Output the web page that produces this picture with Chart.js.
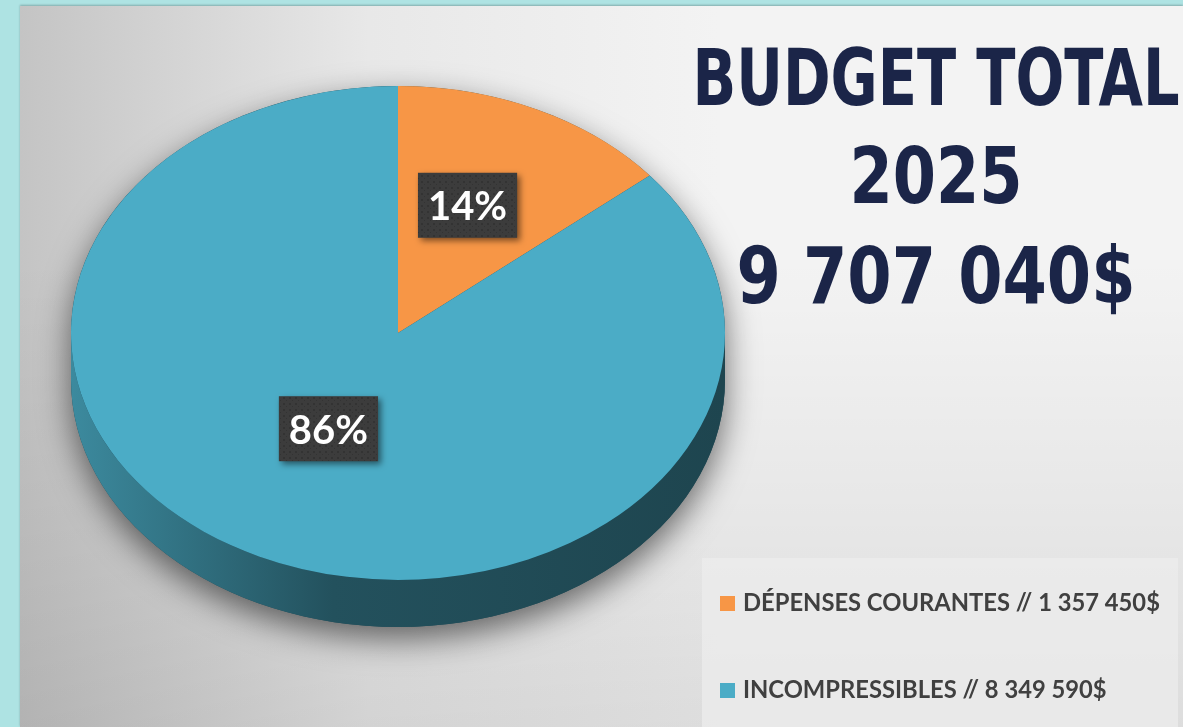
<!DOCTYPE html>
<html>
<head>
<meta charset="utf-8">
<script src="https://cdn.jsdelivr.net/npm/chart.js@4.4.1/dist/chart.umd.min.js"></script>
<style>
  html, body { margin: 0; padding: 0; background: #aee3e3; overflow: hidden; }
  #panel {
    position: absolute; left: 20px; top: 6px; width: 1163px; height: 721px;
    background:
      linear-gradient(to bottom, rgba(0,0,0,0) 35%, rgba(0,0,0,0.09) 100%),
      linear-gradient(to right, #c4c4c4 0%, #e8e8e8 30%, #f3f3f3 60%, #f3f3f3 100%);
    box-shadow: 0 -1px 2px rgba(0,0,0,0.25);
  }
  #budgetChart { position: absolute; left: 0; top: 0; }
</style>
</head>
<body>
<div id="panel"></div>
<canvas id="budgetChart" width="1183" height="727"></canvas>
<script>
// Données du budget
const categories = ['DÉPENSES COURANTES', 'INCOMPRESSIBLES'];
const montants = [1357450, 8349590];
const couleurs = ['#f79646', '#4bacc6'];
const titreLignes = ['BUDGET TOTAL', '2025'];

// Réglages de la vue "3D"
const INCLINAISON = 0.755; // écrasement vertical du disque
const EPAISSEUR = 47;      // hauteur du côté du gâteau

const total = montants.reduce((a, b) => a + b, 0);

function formatMontant(v) {
    return String(v).replace(/\B(?=(\d{3})+(?!\d))/g, ' ') + '$';
}

function assombrir(hex, f) {
    const n = parseInt(hex.slice(1), 16);
    const r = Math.round(((n >> 16) & 255) * f);
    const g = Math.round(((n >> 8) & 255) * f);
    const b = Math.round((n & 255) * f);
    return `rgb(${r},${g},${b})`;
}

// Motif pointillé des étiquettes
function motifEtiquette(ctx) {
    const c = document.createElement('canvas');
    c.width = 6; c.height = 6;
    const p = c.getContext('2d');
    p.fillStyle = '#3c3c3c';
    p.fillRect(0, 0, 6, 6);
    p.fillStyle = '#333333';
    p.fillRect(1, 1, 2, 2);
    p.fillRect(4, 4, 1, 1);
    return ctx.createPattern(c, 'repeat');
}

// Plugin : ombre, côté du gâteau et écrasement du disque
const pie3d = {
    id: 'pie3d',
    beforeDatasetsDraw(chart) {
        const ctx = chart.ctx;
        const arcs = chart.getDatasetMeta(0).data;
        const cx = arcs[0].x, cy = arcs[0].y, R = arcs[0].outerRadius;
        const ry = R * INCLINAISON;

        // ombre portée de la silhouette
        ctx.save();
        ctx.shadowColor = 'rgba(0,0,0,0.55)';
        ctx.shadowBlur = 32;
        ctx.shadowOffsetY = 12;
        ctx.beginPath();
        ctx.ellipse(cx, cy, R, ry, 0, Math.PI, 0);
        ctx.ellipse(cx, cy + EPAISSEUR, R, ry, 0, 0, Math.PI);
        ctx.closePath();
        ctx.fillStyle = '#1f4753';
        ctx.fill();
        ctx.restore();

        // côté visible de chaque part (angles entre 0 et PI)
        arcs.forEach((arc, i) => {
            [0, 2 * Math.PI, -2 * Math.PI].forEach(decal => {
                const a0 = Math.max(arc.startAngle, decal);
                const a1 = Math.min(arc.endAngle, decal + Math.PI);
                if (a1 <= a0) return;
                const grad = ctx.createLinearGradient(cx - R, 0, cx + R, 0);
                grad.addColorStop(0, assombrir(couleurs[i], 0.8));
                grad.addColorStop(0.4, assombrir(couleurs[i], 0.47));
                grad.addColorStop(1, assombrir(couleurs[i], 0.4));
                ctx.beginPath();
                ctx.ellipse(cx, cy, R, ry, 0, a0 - decal, a1 - decal);
                ctx.ellipse(cx, cy + EPAISSEUR, R, ry, 0, a1 - decal, a0 - decal, true);
                ctx.closePath();
                ctx.fillStyle = grad;
                ctx.fill();
            });
        });

        // disque du dessus : on écrase verticalement
        ctx.save();
        ctx.translate(cx, cy);
        ctx.scale(1, INCLINAISON);
        ctx.translate(-cx, -cy);
    },
    afterDatasetsDraw(chart) {
        const ctx = chart.ctx;
        ctx.restore();

        const arcs = chart.getDatasetMeta(0).data;
        const motif = motifEtiquette(ctx);
        arcs.forEach((arc, i) => {
            const mid = (arc.startAngle + arc.endAngle) / 2;
            const lx = arc.x + Math.cos(mid) * arc.outerRadius * 0.5;
            const ly = arc.y - 16 + Math.sin(mid) * arc.outerRadius * 0.5 * INCLINAISON;
            const txt = Math.round(montants[i] / total * 100) + '%';
            ctx.save();
            ctx.font = 'bold 40px Lato, "Open Sans", sans-serif';
            const w = ctx.measureText(txt).width + 20;
            const h = 65;
            ctx.shadowColor = 'rgba(0,0,0,0.5)';
            ctx.shadowBlur = 6;
            ctx.shadowOffsetX = 3;
            ctx.shadowOffsetY = 3;
            ctx.fillStyle = motif;
            ctx.fillRect(lx - w / 2, ly - h / 2, w, h);
            ctx.shadowColor = 'transparent';
            ctx.fillStyle = '#ffffff';
            ctx.textAlign = 'center';
            ctx.textBaseline = 'middle';
            ctx.fillText(txt, lx, ly + 2);
            ctx.restore();
        });
    },
    afterDraw(chart) {
        const ctx = chart.ctx;

        // Titre à droite
        ctx.save();
        ctx.fillStyle = '#1b2548';
        ctx.textAlign = 'center';
        ctx.textBaseline = 'alphabetic';
        ctx.font = 'bold 78px "DejaVu Sans Condensed", "DejaVu Sans", sans-serif';
        const lignes = [...titreLignes, formatMontant(total)];
        const largeurs = [487, 173, 399];
        const bases = [105, 203, 303];
        lignes.forEach((l, i) => ctx.fillText(l, 936, bases[i], largeurs[i]));
        ctx.restore();

        // Légende en bas à droite
        ctx.save();
        ctx.fillStyle = 'rgba(236,236,236,0.75)';
        ctx.fillRect(702, 558, 476, 169);
        const items = chart.options.plugins.legend.labels.generateLabels(chart);
        ctx.font = 'bold 25px Lato, "Open Sans", sans-serif';
        ctx.textBaseline = 'alphabetic';
        items.forEach((it, i) => {
            const y = 611 + i * 87;
            ctx.fillStyle = it.fillStyle;
            ctx.fillRect(720, y - 15, 15, 15);
            ctx.fillStyle = '#404040';
            const t = it.text + ' // ' + formatMontant(montants[i]);
            const w = ctx.measureText(t).width;
            ctx.fillText(t, 743, y, w * 0.95);
        });
        ctx.restore();
    }
};

const ctx = document.getElementById('budgetChart').getContext('2d');
new Chart(ctx, {
    type: 'pie',
    data: {
        labels: categories,
        datasets: [{
            data: montants,
            backgroundColor: couleurs,
            borderWidth: 0,
            hoverOffset: 0
        }]
    },
    options: {
        responsive: false,
        animation: false,
        events: [],
        layout: { padding: { left: 71, top: 6, right: 458, bottom: 67 } },
        plugins: {
            legend: { display: false },
            tooltip: { enabled: false }
        }
    },
    plugins: [pie3d]
});
</script>
</body>
</html>
